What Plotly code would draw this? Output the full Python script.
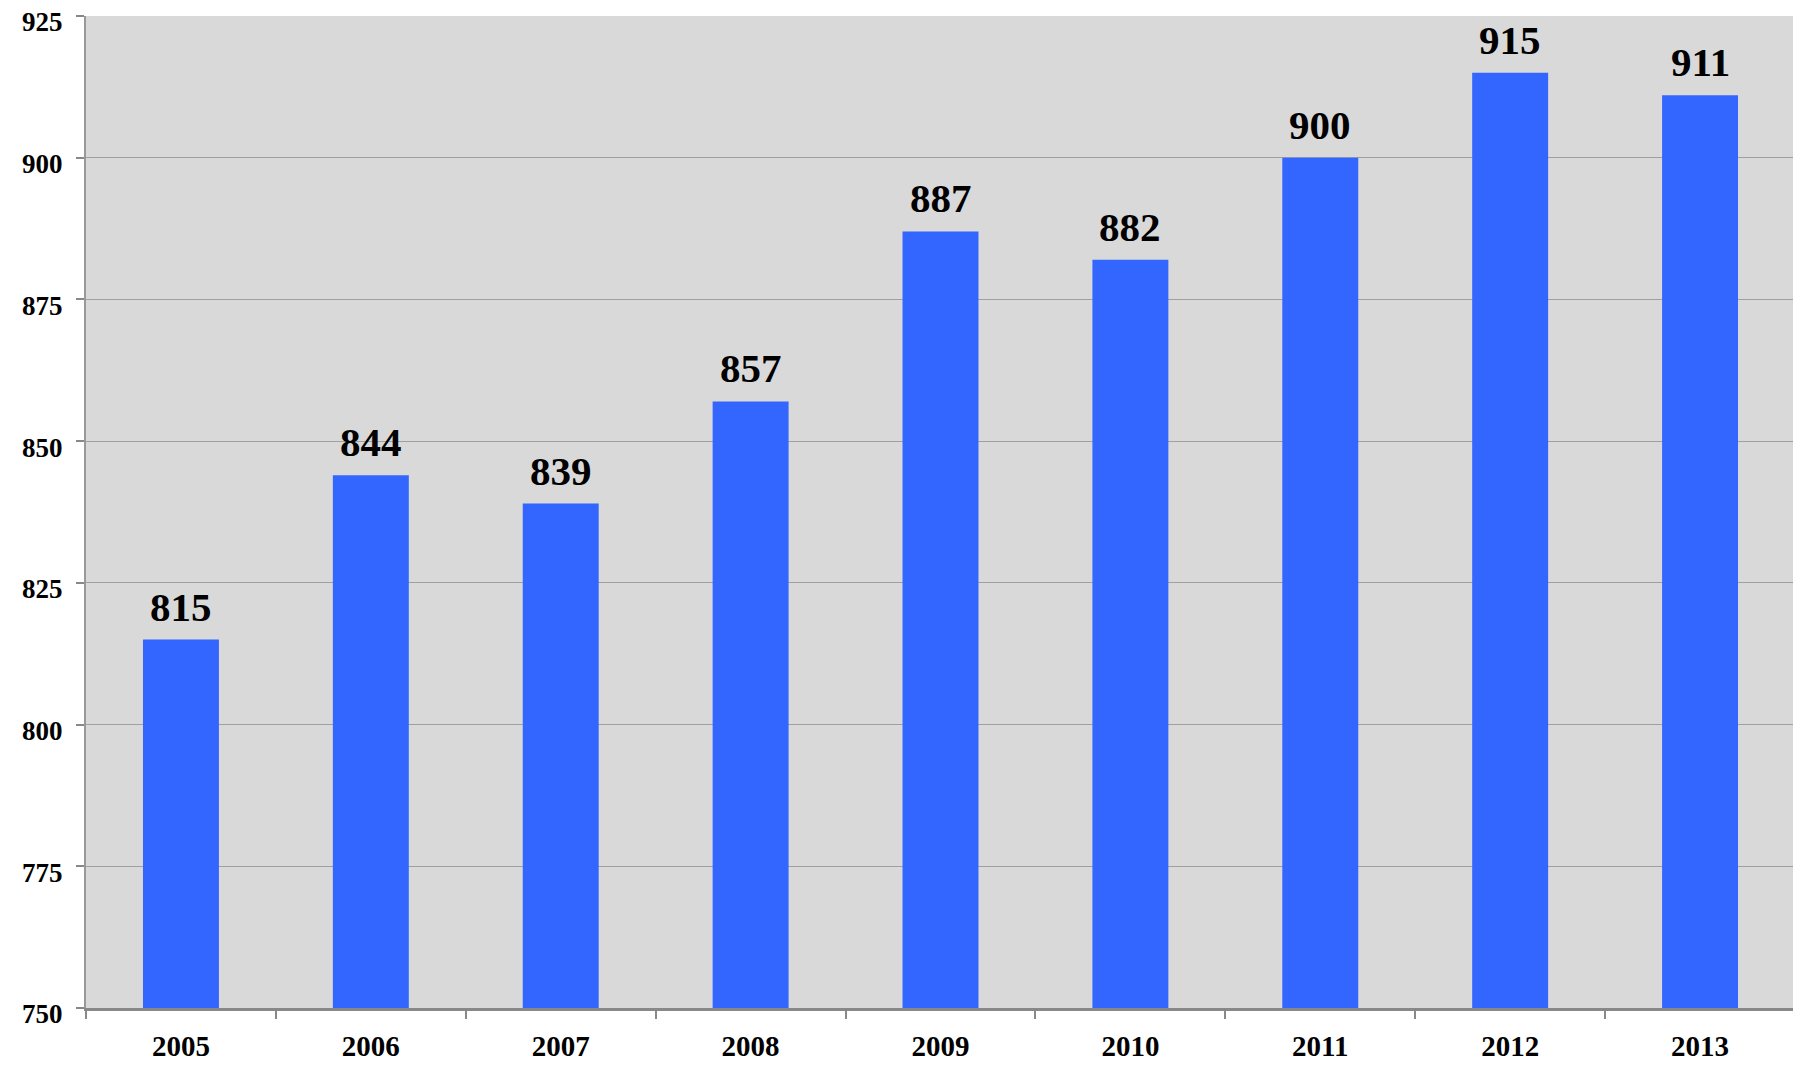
import plotly.graph_objects as go

# datos
anios = ["2005", "2006", "2007", "2008", "2009", "2010", "2011", "2012", "2013"]
valores = [815, 844, 839, 857, 887, 882, 900, 915, 911]
ticks_y = [750, 775, 800, 825, 850, 875, 900, 925]

fuente = "Liberation Serif"

fig = go.Figure()
fig.add_trace(go.Bar(x=anios, y=valores, marker=dict(color="#3366FF", line=dict(width=0)),
                     width=0.4, hoverinfo="none"))

# etiquetas de valor encima de cada barra
# (en eje de categorias "2005" se leeria como indice, por eso se usa la posicion)
for i, v in enumerate(valores):
    fig.add_annotation(x=i, y=v, text=str(v), showarrow=False, yanchor="bottom",
                       yshift=8, font=dict(family=fuente, size=41, color="black", weight="bold"))

# la pagina tiene 8px de margen en body
fig.update_layout(
    width=1801, height=1067,
    margin=dict(l=78, r=14, t=8, b=67, autoexpand=False),
    paper_bgcolor="white", plot_bgcolor="#D9D9D9",
    showlegend=False,
    font=dict(family=fuente, color="black"),
)
fig.update_xaxes(type="category", showline=True, linecolor="#888888", linewidth=3,
                 ticks="outside", ticklen=8, tickcolor="#888888", tickwidth=2,
                 tickson="boundaries", tickfont=dict(family=fuente, size=29, weight="bold"),
                 automargin=False, ticklabelstandoff=10, tickangle=0)
fig.update_yaxes(range=[750, 925], tickvals=ticks_y, showgrid=True, gridcolor="#A0A0A0",
                 gridwidth=1, showline=True, linecolor="#999999", linewidth=2,
                 ticks="outside", ticklen=8, tickcolor="#888888", tickwidth=2,
                 tickfont=dict(family=fuente, size=27, weight="bold"), zeroline=False,
                 automargin=False, ticklabeloverflow="allow", ticklabelshift=6,
                 ticklabelstandoff=8)

fig.write_html("out.html")
